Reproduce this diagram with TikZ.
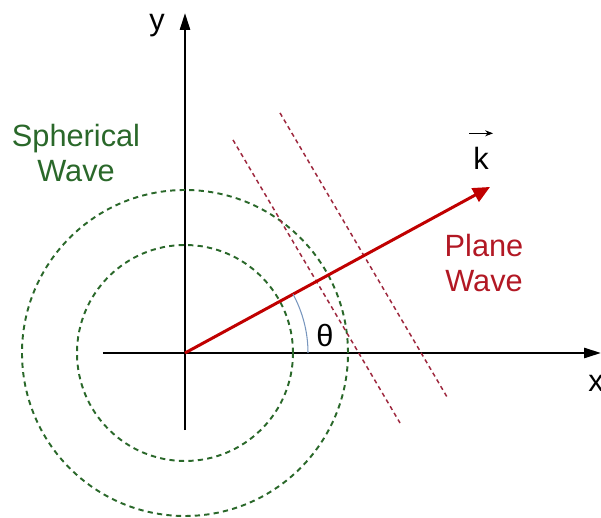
\documentclass[tikz,border=0pt]{standalone}
\usepackage{fontspec}
\setmainfont{Liberation Sans}
\usetikzlibrary{arrows.meta, calc}

\definecolor{sphgreen}{RGB}{42,104,42}
\definecolor{kred}{RGB}{192,0,0}
\definecolor{planered}{RGB}{178,24,36}
\definecolor{frontred}{RGB}{158,40,62}
\definecolor{arcblue}{RGB}{120,150,190}

\begin{document}
\begin{tikzpicture}[
    scale=0.02,
    font=\fontsize{17.5}{20}\selectfont,
    axis/.style={line width=1.4pt, -{Triangle[length=0.34cm, width=0.2cm]}},
    kvec/.style={line width=1.7pt, kred, -{Triangle[length=0.34cm, width=0.3cm]}},
    sphere/.style={line width=1.1pt, sphgreen, dash pattern=on 3pt off 2.4pt},
    front/.style={line width=0.85pt, frontred, dash pattern=on 2.4pt off 2pt},
    lbl/.style={inner sep=0pt, anchor=base},
]
    \useasboundingbox (-185,-165) rectangle (416,353);

    %==================== AXES ====================
    \coordinate (O) at (0,0);
    \coordinate (xl) at (-82,0);
    \coordinate (xr) at (416,0);
    \coordinate (yb) at (0,-77);
    \coordinate (yt) at (0,340);
    \draw[axis] (xl) -- (xr);
    \draw[axis] (yb) -- (yt);
    \node[lbl] (xlab) at (411,-39) {x};
    \node[lbl] (ylab) at (-28,322) {y};

    %==================== SPHERICAL WAVE ====================
    \draw[sphere] (O) circle (108);
    \draw[sphere] (O) circle (163);
    \node[text=sphgreen, align=center] (sph) at (-109,200) {Spherical\\Wave};

    %==================== PLANE WAVE FRONTS ====================
    \coordinate (f1a) at (48,213);
    \coordinate (f1b) at (215,-70);
    \coordinate (f2a) at (95,240);
    \coordinate (f2b) at (262,-44);
    \draw[front] (f1a) -- (f1b);
    \draw[front] (f2a) -- (f2b);
    \node[text=planered, align=center] (plane) at (299,90) {Plane\\Wave};

    %==================== WAVE VECTOR ====================
    \coordinate (ktip) at (305,166);
    \draw[kvec] (O) -- (ktip);
    \node[lbl] (k) at (296,183) {k};
    \draw[line width=0.6pt, -{Stealth[length=1.6mm, width=1.2mm]}]
        ($(k.north west)+(-4,14)$) -- ($(k.north east)+(4,14)$);

    %==================== ANGLE ====================
    \draw[arcblue, line width=0.6pt] (123,0) arc[start angle=0, end angle=28.55, radius=123];
    \node[lbl] (theta) at (140,6) {θ};

\end{tikzpicture}
\end{document}
